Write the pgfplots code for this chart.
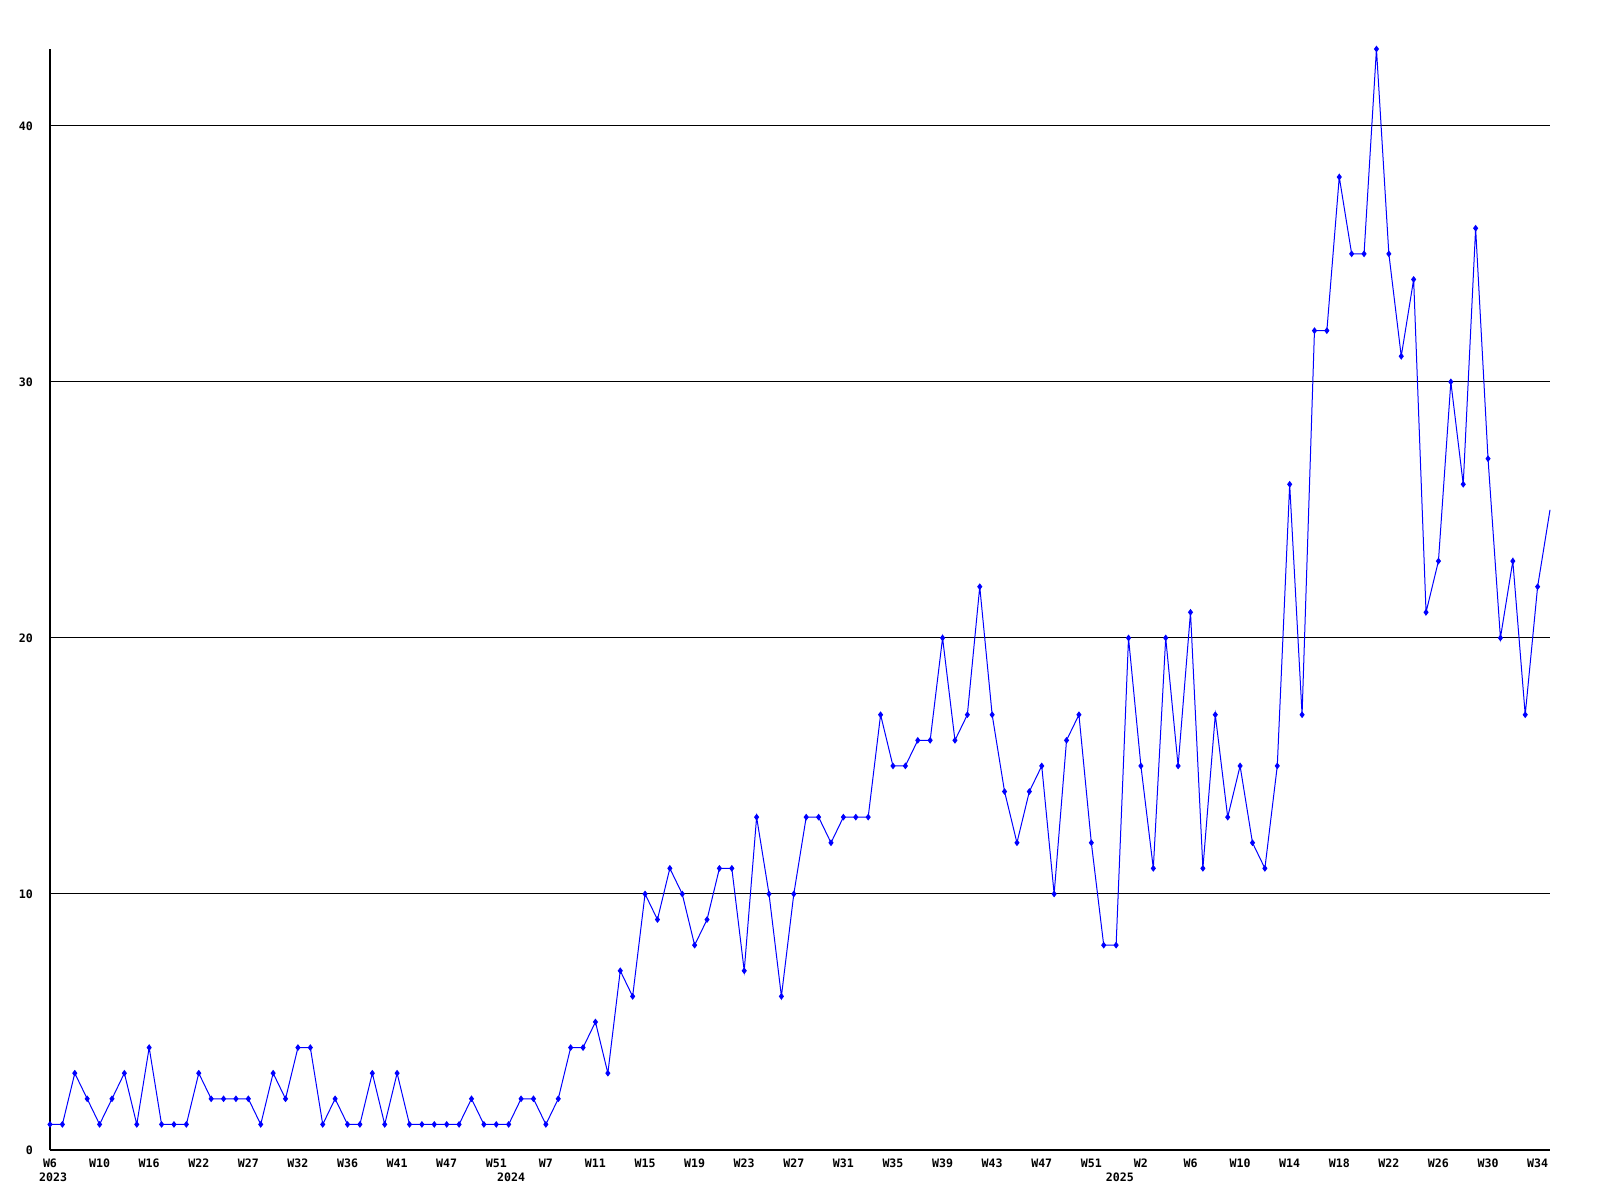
\documentclass[border=0pt]{standalone}
\usepackage{pgfplots}
\pgfplotsset{compat=1.18}
\usepackage{fontspec}
\setmonofont{DejaVu Sans Mono}
\begin{document}
\begin{tikzpicture}
\begin{axis}[
  scale only axis,
  width=750pt, height=550.5pt,
  xmin=0, xmax=121, ymin=0, ymax=43,
  axis x line*=bottom, axis y line*=left,
  axis line style={-, black, line width=0.8pt},
  major tick length=0pt,
  ytick={0,10,20,30,40},
  ymajorgrids,
  grid style={black, line width=0.5pt},
  xtick={0,4,...,120},
  xticklabels={W6,W10,W16,W22,W27,W32,W36,W41,W47,W51,W7,W11,W15,W19,W23,W27,W31,W35,W39,W43,W47,W51,W2,W6,W10,W14,W18,W22,W26,W30,W34},
  tick label style={font=\ttfamily\bfseries\fontsize{5.8}{6}\selectfont},
  /pgf/number format/assume math mode=true,
  xticklabel style={yshift=-1pt},
  yticklabel style={xshift=-5pt},
  clip=false,
]
\addplot[blue, line width=0.5pt, mark=diamond*, mark size=1.3pt, mark options={blue}, mark indices={1,...,121}] coordinates {
(0,1)(1,1)(2,3)(3,2)(4,1)(5,2)(6,3)(7,1)(8,4)(9,1)(10,1)(11,1)(12,3)(13,2)(14,2)(15,2)(16,2)(17,1)(18,3)(19,2)
(20,4)(21,4)(22,1)(23,2)(24,1)(25,1)(26,3)(27,1)(28,3)(29,1)(30,1)(31,1)(32,1)(33,1)(34,2)(35,1)(36,1)(37,1)(38,2)(39,2)
(40,1)(41,2)(42,4)(43,4)(44,5)(45,3)(46,7)(47,6)(48,10)(49,9)(50,11)(51,10)(52,8)(53,9)(54,11)(55,11)(56,7)(57,13)(58,10)(59,6)
(60,10)(61,13)(62,13)(63,12)(64,13)(65,13)(66,13)(67,17)(68,15)(69,15)(70,16)(71,16)(72,20)(73,16)(74,17)(75,22)(76,17)(77,14)(78,12)(79,14)
(80,15)(81,10)(82,16)(83,17)(84,12)(85,8)(86,8)(87,20)(88,15)(89,11)(90,20)(91,15)(92,21)(93,11)(94,17)(95,13)(96,15)(97,12)(98,11)(99,15)
(100,26)(101,17)(102,32)(103,32)(104,38)(105,35)(106,35)(107,43)(108,35)(109,31)(110,34)(111,21)(112,23)(113,30)(114,26)(115,36)(116,27)(117,20)(118,23)(119,17)
(120,22)(121,25)
};
\node[font=\ttfamily\bfseries\fontsize{5.8}{6}\selectfont] at (axis cs:0.25,0) [yshift=-13.5pt] {2023};
\node[font=\ttfamily\bfseries\fontsize{5.8}{6}\selectfont] at (axis cs:37.2,0) [yshift=-13.5pt] {2024};
\node[font=\ttfamily\bfseries\fontsize{5.8}{6}\selectfont] at (axis cs:86.3,0) [yshift=-13.5pt] {2025};
\end{axis}
\pgfresetboundingbox
\path ([shift={(-25pt,-25pt)}]current axis.south west) rectangle ([shift={(25pt,24.5pt)}]current axis.north east);
\end{tikzpicture}
\end{document}
